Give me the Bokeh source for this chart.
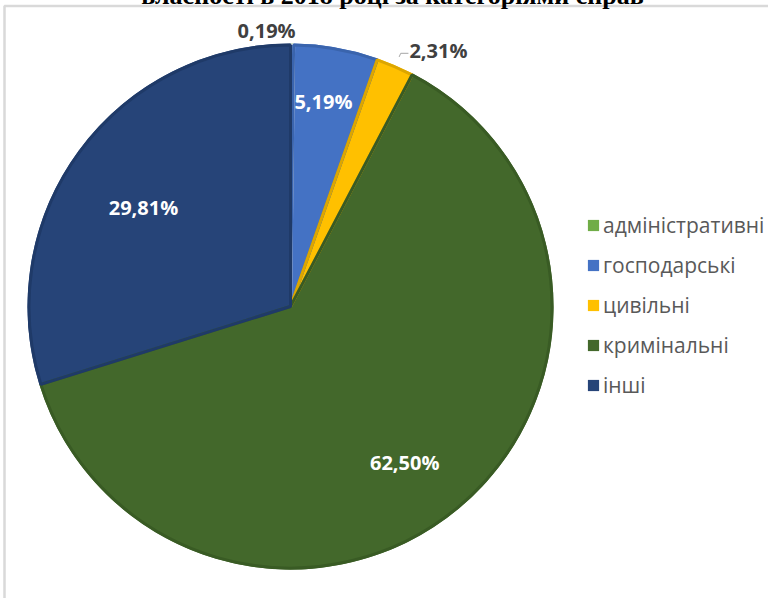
import numpy as np
from bokeh.plotting import figure
from bokeh.models import Range1d, ColumnDataSource, Legend, LegendItem
from bokeh.core.properties import value
from bokeh.embed import file_html
from bokeh.resources import INLINE

# ---- data ----
title_text = "власності в 2018 році за категоріями справ"
categories = ["адміністративні", "господарські", "цивільні", "кримінальні", "інші"]
shares = [0.19, 5.19, 2.31, 62.50, 29.81]
share_labels = ["0,19%", "5,19%", "2,31%", "62,50%", "29,81%"]

# ---- style ----
colors = ["#70AD47", "#4472C4", "#FFC000", "#43682B", "#264478"]
edge_colors = ["#F2F2F2", "#3A64AD", "#DCA600", "#395B24", "#1F3A68"]
label_colors = ["#404040", "#FFFFFF", "#404040", "#FFFFFF", "#FFFFFF"]
label_rfac = [1.053, 0.789, 1.124, 0.735, 0.674]
label_dang = [-5.3, -0.9, 6.5, 3.6, -2.4]

W, H = 776, 606
CX, CY, R = 290, 300, 263   # window-pixel based coordinates (y up)

# the page's host element ends up shifted by (-8, -8); ranges compensate so that
# data coordinates equal window pixels (x) and H - window pixels (y)
p = figure(width=W, height=H, x_range=Range1d(-8, W - 8), y_range=Range1d(8, H + 8),
           output_backend="svg", toolbar_location=None, min_border=0)
p.axis.visible = False
p.grid.visible = False
p.outline_line_color = None
p.background_fill_color = "white"
p.border_fill_color = "white"
p.styles = {"margin": "-8px"}

frac = np.array(shares) / sum(shares)
cum = np.concatenate([[0.0], np.cumsum(frac)])
start = np.pi / 2 - 2 * np.pi * cum[:-1]
end = np.pi / 2 - 2 * np.pi * cum[1:]
mid = np.pi * (cum[:-1] + cum[1:])  # clockwise from top

src = ColumnDataSource(dict(cat=categories, start=start, end=end, color=colors,
                            edge=edge_colors))
fill_r = p.wedge(x=CX, y=CY, radius=R, start_angle="start", end_angle="end",
                 direction="clock", fill_color="color", line_color=None, source=src)
p.wedge(x=CX, y=CY, radius=R - 1.5, start_angle="start", end_angle="end",
        direction="clock", fill_color=None, line_color="edge", line_width=3,
        source=src)

# data labels
th = mid + np.radians(label_dang)
lx = CX + R * np.array(label_rfac) * np.sin(th)
ly = CY + R * np.array(label_rfac) * np.cos(th)
p.text(x=lx, y=ly, text=share_labels, text_color=label_colors,
       text_font=value("Open Sans"), text_font_style="bold", text_font_size="20px",
       text_align="center", text_baseline="middle")

# leader line for the small outside label (цивільні)
i = 2
x0 = CX + R * 1.035 * np.sin(mid[i]); y0 = CY + R * 1.035 * np.cos(mid[i])
x1 = CX + R * 1.05 * np.sin(mid[i]); y1 = CY + R * 1.05 * np.cos(mid[i])
x2 = lx[i] - 30
p.line(x=[x0, x1, x2], y=[y0, y1, y1], line_color="#A6A6A6", line_width=1)

# frame of the chart area (document border)
p.line(x=[4, 4, W], y=[0, H - 5.5, H - 5.5], line_color="#D9D9D9", line_width=2.5)

# title fragment (cut off at the top, as in the document)
p.text(x=[392], y=[H + 5], text=[title_text], text_font=value("Liberation Serif"),
       text_font_style="bold", text_font_size="26px", text_align="center",
       text_baseline="alphabetic", text_color="black")

legend = Legend(items=[LegendItem(label=c, renderers=[fill_r], index=k)
                       for k, c in enumerate(categories)],
                location=(594, 199), orientation="vertical",
                glyph_width=14, glyph_height=14, label_height=20, spacing=12,
                padding=0, margin=0, label_standoff=3,
                label_text_font="Open Sans", label_text_font_size="21px",
                label_text_color="#595959", border_line_color=None,
                background_fill_alpha=0)
p.add_layout(legend)

open("out.html", "w").write(file_html(p, INLINE))
